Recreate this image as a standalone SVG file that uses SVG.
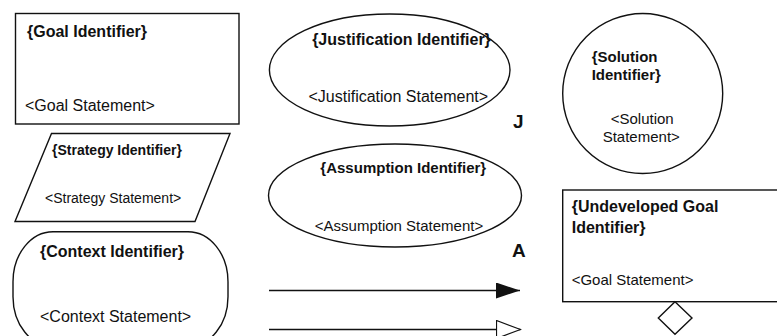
<svg xmlns="http://www.w3.org/2000/svg" width="777" height="336" viewBox="0 0 777 336">
<style>
.s{fill:#fff;stroke:#111;stroke-width:1.4}
.id{font-family:"Liberation Sans",Arial,sans-serif;font-weight:bold;fill:#111}
.st{font-family:"Liberation Sans",Arial,sans-serif;fill:#111}
.ln{stroke:#111;stroke-width:1.3;fill:none}
</style>
<defs>
<marker id="filled" markerUnits="userSpaceOnUse" markerWidth="24" markerHeight="18" refX="24" refY="8" orient="auto">
<path d="M0,0 L24,8 L0,16 Z" fill="#111"/>
</marker>
<marker id="open" markerUnits="userSpaceOnUse" markerWidth="26" markerHeight="22" refX="25" refY="10" orient="auto">
<path d="M1,1 L25,10 L1,19 Z" fill="#fff" stroke="#111" stroke-width="1.2"/>
</marker>
</defs>
<rect width="777" height="336" fill="#fff"/>
<g id="goal">
<rect class="s" x="15.5" y="13.5" width="223.5" height="110.5"/>
<text class="id" x="27" y="37" font-size="16">{Goal Identifier}</text>
<text class="st" x="25" y="110.5" font-size="16">&lt;Goal Statement&gt;</text>
</g>
<g id="strategy">
<polygon class="s" points="51.5,133.5 230,133.5 195,221.5 15,221.5"/>
<text class="id" x="52" y="155" font-size="14">{Strategy Identifier}</text>
<text class="st" x="45" y="203" font-size="14">&lt;Strategy Statement&gt;</text>
</g>
<g id="context">
<rect class="s" x="13" y="231.7" width="215" height="115" rx="40" ry="50"/>
<text class="id" x="40" y="257" font-size="16">{Context Identifier}</text>
<text class="st" x="40" y="321.5" font-size="16">&lt;Context Statement&gt;</text>
</g>
<g id="justification">
<ellipse class="s" cx="389.7" cy="70" rx="120.3" ry="56"/>
<text class="id" x="401.5" y="45" font-size="16" text-anchor="middle">{Justification Identifier}</text>
<text class="st" x="398.3" y="101.5" font-size="16" text-anchor="middle">&lt;Justification Statement&gt;</text>
<text class="id" x="513" y="128" font-size="19">J</text>
</g>
<g id="assumption">
<ellipse class="s" cx="395" cy="195.5" rx="126.5" ry="51.5"/>
<text class="id" x="403.3" y="173" font-size="15" text-anchor="middle">{Assumption Identifier}</text>
<text class="st" x="399" y="230.5" font-size="15" text-anchor="middle">&lt;Assumption Statement&gt;</text>
<text class="id" x="512" y="257" font-size="19">A</text>
</g>
<g id="solution">
<circle class="s" cx="642.7" cy="93.5" r="80"/>
<text class="id" x="591.7" y="61.7" font-size="15">{Solution</text>
<text class="id" x="591.7" y="80" font-size="15">Identifier}</text>
<text class="st" x="610.7" y="124" font-size="15">&lt;Solution</text>
<text class="st" x="602.7" y="141.7" font-size="15">Statement&gt;</text>
</g>
<g id="undeveloped-goal">
<rect class="s" x="562.7" y="190" width="230" height="111.7"/>
<polygon class="s" points="675,301.7 692,318 675,334.3 658.3,318"/>
<text class="id" x="571.7" y="212" font-size="16">{Undeveloped Goal</text>
<text class="id" x="571.7" y="233" font-size="16">Identifier}</text>
<text class="st" x="571.7" y="285" font-size="15">&lt;Goal Statement&gt;</text>
</g>
<g id="connectors">
<line class="ln" x1="269" y1="290.5" x2="520" y2="290.5" marker-end="url(#filled)"/>
<line class="ln" x1="269" y1="329.5" x2="520.5" y2="329.5" marker-end="url(#open)"/>
</g>
</svg>
